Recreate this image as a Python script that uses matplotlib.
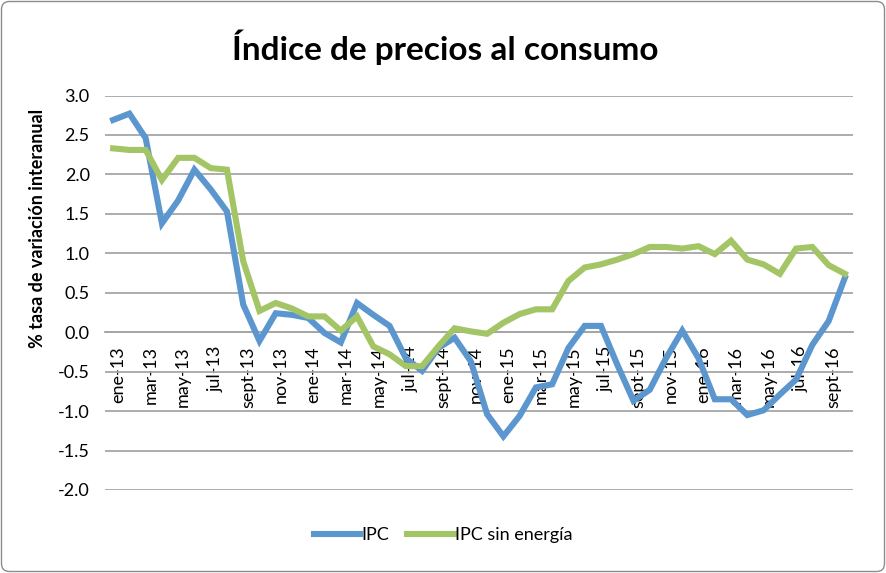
import matplotlib
matplotlib.use('Agg')

from matplotlib import pyplot as plt
from matplotlib.patches import FancyBboxPatch
from matplotlib.transforms import IdentityTransform, ScaledTranslation

plt.rcParams['font.family'] = ['Lato', 'DejaVu Sans']

MONTHS = ['ene', 'feb', 'mar', 'abr', 'may', 'jun', 'jul', 'ago', 'sept', 'oct', 'nov', 'dic']
YEARS = ['13', '14', '15', '16']
periods = ['{}-{}'.format(m, y) for y in YEARS for m in MONTHS][:46]

ipc = [2.69, 2.77, 2.46, 1.38, 1.67, 2.06, 1.81, 1.53, 0.35, -0.11, 0.24, 0.22,
       0.18, -0.01, -0.13, 0.37, 0.22, 0.08, -0.33, -0.49, -0.20, -0.07, -0.37, -1.04,
       -1.32, -1.06, -0.70, -0.66, -0.20, 0.08, 0.08, -0.41, -0.87, -0.73, -0.33, 0.02,
       -0.33, -0.85, -0.85, -1.05, -0.99, -0.79, -0.60, -0.16, 0.14, 0.69]
ipc_sin_energia = [2.33, 2.31, 2.31, 1.93, 2.21, 2.21, 2.08, 2.06, 0.90, 0.27, 0.37, 0.30,
                   0.20, 0.20, 0.02, 0.20, -0.18, -0.28, -0.43, -0.43, -0.18, 0.05, 0.01, -0.02,
                   0.12, 0.23, 0.29, 0.29, 0.65, 0.82, 0.86, 0.92, 0.99, 1.08, 1.08, 1.06,
                   1.09, 0.99, 1.16, 0.92, 0.86, 0.74, 1.06, 1.08, 0.85, 0.74]
y_ticks = [3.0, 2.5, 2.0, 1.5, 1.0, 0.5, 0.0, -0.5, -1.0, -1.5, -2.0]

W, H = 886, 573
fig = plt.figure(figsize=(W / 100, H / 100), dpi=100)
ax = fig.add_axes([105 / W, 1 - 490 / H, (853 - 105) / W, (490 - 95.5) / H])

# spine position first: moving it resets the tick properties
for name in ['top', 'right', 'left']:
    ax.spines[name].set_visible(False)
ax.spines['bottom'].set_position(('data', 0))
ax.spines['bottom'].set_color('#A6A6A6')
ax.spines['bottom'].set_linewidth(1.3)

x = list(range(len(periods)))
ax.plot(x, ipc, color='#5B96CE', lw=4.4, solid_joinstyle='miter', label='IPC', zorder=3)
ax.plot(x, ipc_sin_energia, color='#A3C565', lw=4.4, solid_joinstyle='miter',
        label='IPC sin energía', zorder=3)

ax.set_xlim(-0.5, len(periods) - 0.5)
ax.set_ylim(-2.0, 3.0)
ax.set_yticks(y_ticks)
ax.set_yticklabels(['{:.1f}'.format(v) for v in y_ticks])
ax.yaxis.grid(True, color='#A6A6A6', lw=1.3)
ax.set_axisbelow(True)

ax.set_xticks(x[::2])
ax.set_xticklabels(periods[::2], rotation=90, ha='center', va='top')
ax.tick_params(axis='x', length=0, pad=10, labelsize=13)
ax.tick_params(axis='y', length=0, pad=11, labelsize=13)
shift = ScaledTranslation(5 / 100, 0, fig.dpi_scale_trans)
for lbl in ax.get_xticklabels():
    lbl.set_transform(lbl.get_transform() + shift)

fig.text(445 / W, 1 - 47 / H, 'Índice de precios al consumo', ha='center', va='center',
         fontsize=24, fontweight='bold')
fig.text(38 / W, 1 - 228 / H, '% tasa de variación interanual', ha='center', va='center',
         rotation=90, fontsize=13, fontweight='bold')

fig.legend(loc='center', bbox_to_anchor=(443 / W, 1 - 535 / H), ncol=2, frameon=False,
           fontsize=13, handlelength=2.6, handletextpad=0.05, columnspacing=1.0)

fig.add_artist(FancyBboxPatch((1.5, 1.5), W - 3, H - 3, boxstyle='round,pad=0,rounding_size=8',
                              transform=IdentityTransform(), fill=False,
                              edgecolor='#8C8C8C', lw=1))

fig.savefig('out.png', dpi=100)
